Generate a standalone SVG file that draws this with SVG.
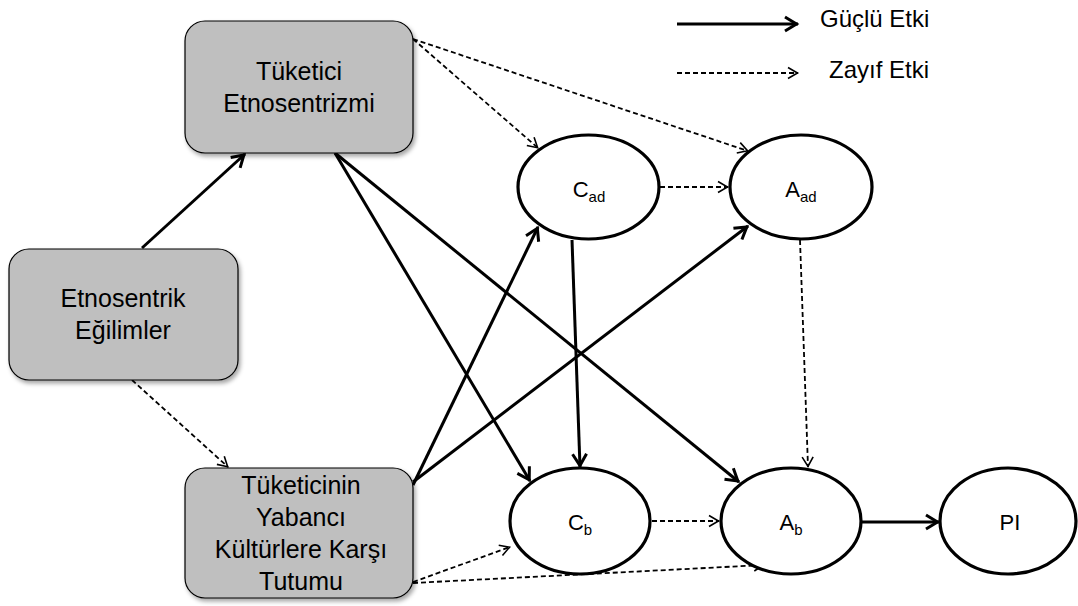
<svg xmlns="http://www.w3.org/2000/svg" width="1078" height="606" viewBox="0 0 1078 606">
  <style>
    .box { fill: #bfbfbf; stroke: #000; stroke-width: 1.2; filter: url(#shadow); }
    .oval { fill: #fff; stroke: #000; stroke-width: 3.2; }
    .lbl { font-family: "Liberation Sans", Arial, sans-serif; font-size: 25px; fill: #000; text-anchor: middle; }
    .olbl { font-family: "Liberation Sans", Arial, sans-serif; font-size: 22px; fill: #000; text-anchor: middle; }
    .leg { font-family: "Liberation Sans", Arial, sans-serif; font-size: 24px; fill: #000; }
    .strong { fill: none; stroke: #000; stroke-width: 3; marker-end: url(#headStrong); }
    .weak { fill: none; stroke: #000; stroke-width: 1.8; stroke-dasharray: 5 3; marker-end: url(#headWeak); }
  </style>
  <defs>
    <filter id="shadow" x="-10%" y="-10%" width="125%" height="130%">
      <feDropShadow dx="2" dy="3" stdDeviation="2" flood-color="#000" flood-opacity="0.35"/>
    </filter>
    <marker id="headStrong" markerUnits="userSpaceOnUse" viewBox="-16 -10 20 20" refX="0" refY="0" markerWidth="20" markerHeight="20" orient="auto" overflow="visible">
      <path d="M-13,-7 L-1.5,0 L-13,7" fill="none" stroke="#000" stroke-width="3" stroke-dasharray="none"/>
    </marker>
    <marker id="headWeak" markerUnits="userSpaceOnUse" viewBox="-12 -8 14 16" refX="0" refY="0" markerWidth="14" markerHeight="16" orient="auto" overflow="visible">
      <path d="M-10,-5.5 L-0.5,0 L-10,5.5" fill="none" stroke="#000" stroke-width="1.6" stroke-dasharray="none"/>
    </marker>
  </defs>

  <rect width="1078" height="606" fill="#fff"/>

  <!-- connectors -->
  <g id="connectors">
    <line class="strong" x1="142" y1="248" x2="245" y2="154"/>
    <line class="strong" x1="335" y1="153" x2="530" y2="481"/>
    <line class="strong" x1="335" y1="153" x2="739" y2="482"/>
    <line class="strong" x1="413" y1="485" x2="538" y2="227"/>
    <line class="strong" x1="413" y1="482" x2="748" y2="226"/>
    <line class="strong" x1="572" y1="240" x2="580" y2="467"/>
    <line class="strong" x1="862" y1="522" x2="939" y2="522"/>

    <line class="weak" x1="132" y1="380" x2="228" y2="467"/>
    <line class="weak" x1="413" y1="39" x2="538" y2="148"/>
    <line class="weak" x1="413" y1="39" x2="748" y2="151"/>
    <line class="weak" x1="660" y1="187" x2="728" y2="187"/>
    <line class="weak" x1="800" y1="240" x2="808" y2="467"/>
    <line class="weak" x1="652" y1="521" x2="719" y2="521"/>
    <line class="weak" x1="413" y1="582" x2="510" y2="547"/>
    <line class="weak" x1="413" y1="583" x2="764" y2="565"/>
  </g>

  <!-- legend -->
  <g id="legend">
    <line class="strong" x1="677" y1="24" x2="798" y2="24"/>
    <line class="weak" x1="677" y1="73" x2="798" y2="73"/>
    <text class="leg" x="820" y="27">Güçlü Etki</text>
    <text class="leg" x="829" y="78">Zayıf Etki</text>
  </g>

  <!-- rectangular nodes -->
  <g id="tuketici-etnosentrizmi">
    <rect class="box" x="185" y="21" width="228" height="132" rx="20" ry="20"/>
    <text class="lbl" x="299" y="80">Tüketici</text>
    <text class="lbl" x="299" y="112">Etnosentrizmi</text>
  </g>

  <g id="etnosentrik-egilimler">
    <rect class="box" x="9" y="249" width="229" height="131" rx="20" ry="20"/>
    <text class="lbl" x="123" y="307">Etnosentrik</text>
    <text class="lbl" x="123" y="339">Eğilimler</text>
  </g>

  <g id="yabanci-kulturlere-tutum">
    <rect class="box" x="185" y="468" width="228" height="130" rx="20" ry="20"/>
    <text class="lbl" x="301" y="494">Tüketicinin</text>
    <text class="lbl" x="301" y="526">Yabancı</text>
    <text class="lbl" x="301" y="558">Kültürlere Karşı</text>
    <text class="lbl" x="301" y="590">Tutumu</text>
  </g>

  <!-- elliptical nodes -->
  <g id="c-ad">
    <ellipse class="oval" cx="588.5" cy="187" rx="70.5" ry="52"/>
    <text class="olbl" x="589" y="197">C<tspan font-size="15" dy="5">ad</tspan></text>
  </g>
  <g id="a-ad">
    <ellipse class="oval" cx="801" cy="187" rx="71" ry="52"/>
    <text class="olbl" x="801" y="197">A<tspan font-size="15" dy="5">ad</tspan></text>
  </g>
  <g id="c-b">
    <ellipse class="oval" cx="580" cy="521" rx="70" ry="53"/>
    <text class="olbl" x="580" y="530">C<tspan font-size="15" dy="5">b</tspan></text>
  </g>
  <g id="a-b">
    <ellipse class="oval" cx="791" cy="521" rx="70" ry="53"/>
    <text class="olbl" x="791" y="530">A<tspan font-size="15" dy="5">b</tspan></text>
  </g>
  <g id="pi">
    <ellipse class="oval" cx="1008" cy="521" rx="68" ry="53"/>
    <text class="olbl" x="1010" y="530">PI</text>
  </g>
</svg>
